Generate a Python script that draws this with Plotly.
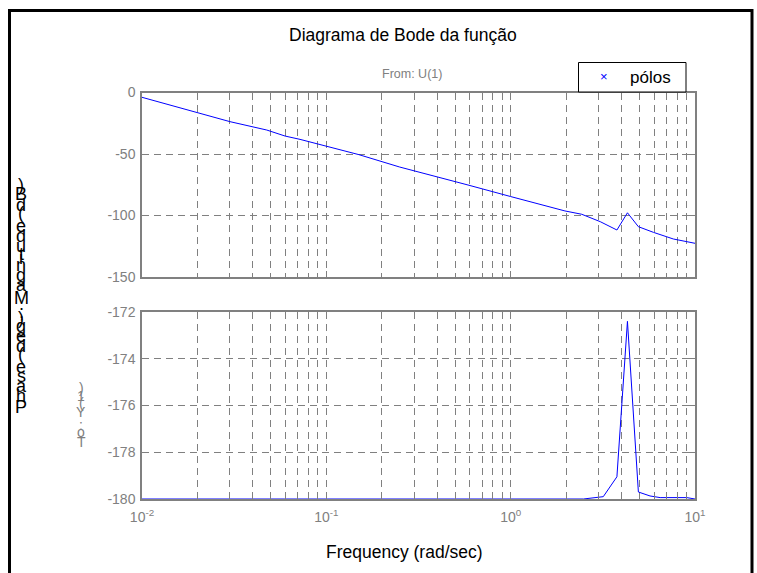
import plotly.graph_objects as go

# Magnitude response (dB)
mag_w = [0.01, 0.0148, 0.0178, 0.030, 0.0475, 0.0597, 0.072, 0.1, 0.15, 0.25,
         0.469, 0.587, 1.0, 1.57, 1.97, 2.43, 3.06, 3.77, 4.30, 4.93, 5.95, 7.63, 10.0]
mag_db = [-3.9, -11.0, -14.2, -23.7, -30.5, -35.4, -38.1, -43.5, -50.5, -60.6,
          -71.1, -75.2, -84.6, -92.3, -96.3, -99.0, -105.0, -111.8, -97.8, -109.1,
          -113.7, -119.1, -122.6]

# Phase response (deg)
ph_w = [0.01, 2.48, 3.18, 3.77, 4.30, 4.93, 5.70, 6.47, 9.02, 10.0]
ph_deg = [-180.0, -180.0, -179.9, -179.05, -172.4, -179.7, -179.87, -179.94, -179.94, -180.0]

mag_ticks = [0, -50, -100, -150]
ph_ticks = [-172, -174, -176, -178, -180]
decades = [0.01, 0.1, 1, 10]
decade_labels = ["10<sup>-2</sup>", "10<sup>-1</sup>", "10<sup>0</sup>", "10<sup>1</sup>"]
minor_w = [k * d for d in (0.01, 0.1, 1) for k in range(2, 10)]

W, H = 757, 573
GRAY = "rgb(128,128,128)"
GRID = "rgb(128,128,128)"
DASH = "7px,5px"
FONT = "Liberation Sans, Arial, sans-serif"


def px(x):
    return x / W


def py(y):
    return 1 - y / H


fig = go.Figure()
fig.add_trace(go.Scatter(x=mag_w, y=mag_db, mode="lines", line=dict(color="blue", width=1),
                         showlegend=False, xaxis="x", yaxis="y"))
fig.add_trace(go.Scatter(x=ph_w, y=ph_deg, mode="lines", line=dict(color="blue", width=1),
                         showlegend=False, xaxis="x2", yaxis="y2"))

xdom = [px(142), px(695)]
common_x = dict(type="log", range=[-2, 1], domain=xdom, showline=True, linecolor=GRAY,
                linewidth=1.5, mirror="ticks", ticks="inside", ticklen=6, tickcolor=GRAY,
                tickvals=decades, showgrid=True, gridcolor=GRID, griddash=DASH,
                gridwidth=1, zeroline=False, ticklabelstandoff=4,
                minor=dict(tickvals=minor_w, ticks="inside", ticklen=4, tickcolor=GRAY,
                           showgrid=True, gridcolor=GRID, griddash=DASH, gridwidth=1),
                tickfont=dict(family=FONT, size=14, color=GRAY))
common_y = dict(showline=True, linecolor=GRAY, linewidth=1.5, mirror="ticks",
                ticks="inside", ticklen=6, tickcolor=GRAY, showgrid=True, gridcolor=GRID,
                griddash=DASH, gridwidth=1, zeroline=False,
                tickfont=dict(family=FONT, size=14, color=GRAY), ticklabelstandoff=2)

fig.update_layout(
    width=W, height=H, margin=dict(l=0, r=0, t=0, b=0, autoexpand=False),
    paper_bgcolor="white", plot_bgcolor="white", showlegend=False,
    xaxis=dict(common_x, anchor="y", ticktext=["", "", "", ""]),
    yaxis=dict(common_y, domain=[py(277), py(92.5)], range=[-150, 0],
               tickvals=mag_ticks, ticktext=[str(v) for v in mag_ticks], anchor="x"),
    xaxis2=dict(common_x, anchor="y2", ticktext=decade_labels),
    yaxis2=dict(common_y, domain=[py(499), py(312)], range=[-180, -172],
                tickvals=ph_ticks, ticktext=[str(v) for v in ph_ticks], anchor="x2"),
)

annotations = [
    dict(text="Diagrama de Bode da função", x=px(403), y=py(35),
         font=dict(family=FONT, size=17.5, color="black")),
    dict(text="From: U(1)", x=px(412), y=py(74),
         font=dict(family=FONT, size=12.5, color=GRAY)),
    dict(text="Frequency (rad/sec)", x=px(405), y=py(552),
         font=dict(family=FONT, size=17.5, color="black")),
    # legend entry for the poles
    dict(text="×", x=px(604), y=py(76.5), font=dict(family=FONT, size=13, color="blue")),
    dict(text="pólos", x=px(650.5), y=py(77), font=dict(family=FONT, size=17, color="black")),
]

# Axis labels drawn as upright glyphs stacked along a vertical line
ADV = {"P": 667, "h": 556, "a": 556, "s": 500, "e": 556, " ": 278, "(": 333, "d": 556,
       "g": 556, ")": 333, ";": 278, "M": 833, "n": 556, "i": 222, "t": 278, "u": 556,
       "B": 667, "T": 611, "o": 556, ":": 278, "Y": 667, "1": 556}


def stacked(text, xc, y_first, y_last, size, color):
    cum, pos = 0.0, []
    for ch in text:
        a = ADV.get(ch, 556)
        pos.append(cum + a / 2)
        cum += a
    span = pos[-1] - pos[0]
    out = []
    for ch, p in zip(text, pos):
        if ch == " ":
            continue
        y = y_first - (p - pos[0]) / span * (y_first - y_last)
        out.append(dict(text=ch, x=px(xc), y=py(y),
                        font=dict(family=FONT, size=size, color=color)))
    return out


annotations += stacked("Phase (deg); Magnitude (dB)", 21, 407, 185, 18, "black")
annotations += stacked("To: Y(1)", 81, 442, 388, 14, GRAY)

for a in annotations:
    a.update(xref="paper", yref="paper", showarrow=False, xanchor="center", yanchor="middle")
fig.update_layout(annotations=annotations)

# Legend box and figure frame
fig.add_shape(type="rect", xref="paper", yref="paper", x0=px(578.5), x1=px(686),
              y0=py(92), y1=py(62.5), line=dict(color="black", width=1), fillcolor="white",
              layer="above")
fig.add_shape(type="rect", xref="paper", yref="paper", x0=px(9.5), x1=px(752), y0=-0.05,
              y1=py(10.5), line=dict(color="black", width=3), fillcolor="rgba(0,0,0,0)")

fig.write_html("out.html")
